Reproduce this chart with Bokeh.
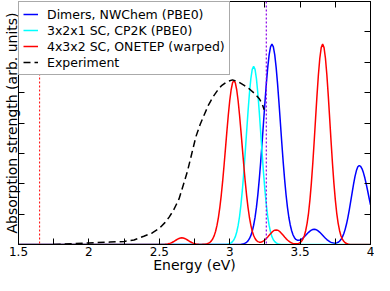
from bokeh.plotting import figure
from bokeh.models import (Range1d, FixedTicker, LinearAxis, Span, NumeralTickFormatter,
                          CustomLabelingPolicy)
from bokeh.embed import file_html
from bokeh.resources import INLINE

# ---------------- data ----------------
energy_fine = [
    2.50, 2.51, 2.52, 2.53, 2.54, 2.55, 2.56, 2.57, 2.58, 2.59,
    2.60, 2.61, 2.62, 2.63, 2.64, 2.65, 2.66, 2.67, 2.68, 2.69,
    2.70, 2.71, 2.72, 2.73, 2.74, 2.75, 2.76, 2.77, 2.78, 2.79,
    2.80, 2.81, 2.82, 2.83, 2.84, 2.85, 2.86, 2.87, 2.88, 2.89,
    2.90, 2.91, 2.92, 2.93, 2.94, 2.95, 2.96, 2.97, 2.98, 2.99,
    3.00, 3.01, 3.02, 3.03, 3.04, 3.05, 3.06, 3.07, 3.08, 3.09,
    3.10, 3.11, 3.12, 3.13, 3.14, 3.15, 3.16, 3.17, 3.18, 3.19,
    3.20, 3.21, 3.22, 3.23, 3.24, 3.25, 3.26, 3.27, 3.28, 3.29,
    3.30, 3.31, 3.32, 3.33, 3.34, 3.35, 3.36, 3.37, 3.38, 3.39,
    3.40, 3.41, 3.42, 3.43, 3.44, 3.45, 3.46, 3.47, 3.48, 3.49,
    3.50, 3.51, 3.52, 3.53, 3.54, 3.55, 3.56, 3.57, 3.58, 3.59,
    3.60, 3.61, 3.62, 3.63, 3.64, 3.65, 3.66, 3.67, 3.68, 3.69,
    3.70, 3.71, 3.72, 3.73, 3.74, 3.75, 3.76, 3.77, 3.78, 3.79,
    3.80, 3.81, 3.82, 3.83, 3.84, 3.85, 3.86, 3.87, 3.88, 3.89,
    3.90, 3.91, 3.92, 3.93, 3.94, 3.95, 3.96, 3.97, 3.98, 3.99,
    4.00,
]
energy_start = [1.50]
zero_start = [0.0]

dimers_nwchem = [
    0, 0, 0, 0, 0, 0, 0, 0, 0, 0,
    0, 0, 0, 0, 0, 0, 0, 0, 0, 0,
    0, 0, 0, 0, 0, 0, 0, 0, 0, 0,
    0, 0, 0, 0, 0, 0, 0, 0, 0, 0,
    0, 0, 0, 0, 0, 0, 0, 0, 0, 0,
    0, 0, 0, 0, 0, 0.001, 0.002, 0.004, 0.008, 0.014,
    0.026, 0.044, 0.073, 0.119, 0.191, 0.290, 0.436, 0.634, 0.891, 1.228,
    1.643, 2.145, 2.713, 3.340, 4.006, 4.666, 5.287, 5.821, 6.244, 6.508,
    6.600, 6.508, 6.244, 5.821, 5.287, 4.666, 4.006, 3.340, 2.713, 2.146,
    1.645, 1.231, 0.897, 0.643, 0.451, 0.312, 0.224, 0.167, 0.141, 0.137,
    0.151, 0.177, 0.214, 0.257, 0.306, 0.355, 0.401, 0.441, 0.473, 0.493,
    0.500, 0.493, 0.473, 0.441, 0.401, 0.354, 0.304, 0.253, 0.206, 0.163,
    0.126, 0.095, 0.071, 0.055, 0.045, 0.044, 0.053, 0.072, 0.108, 0.162,
    0.243, 0.352, 0.498, 0.682, 0.903, 1.157, 1.434, 1.720, 1.996, 2.241,
    2.434, 2.558, 2.600, 2.572, 2.490, 2.359, 2.187, 1.984, 1.762, 1.531,
    1.302,
]

sc_cp2k = [
    0, 0, 0, 0, 0, 0, 0, 0, 0, 0,
    0, 0, 0, 0, 0, 0, 0, 0, 0, 0,
    0, 0, 0, 0, 0, 0, 0, 0, 0, 0,
    0, 0, 0, 0, 0, 0, 0, 0, 0, 0,
    0, 0, 0, 0, 0, 0.001, 0.002, 0.004, 0.007, 0.015,
    0.028, 0.052, 0.094, 0.158, 0.258, 0.411, 0.628, 0.922, 1.315, 1.796,
    2.371, 3.017, 3.698, 4.367, 4.972, 5.453, 5.764, 5.870, 5.764, 5.453,
    4.972, 4.367, 3.698, 3.017, 2.371, 1.796, 1.315, 0.922, 0.628, 0.411,
    0.258, 0.158, 0.094, 0.052, 0.028, 0.015, 0.007, 0.004, 0.002, 0.001,
    0, 0, 0, 0, 0, 0, 0, 0, 0, 0,
    0, 0, 0, 0, 0, 0, 0, 0, 0, 0,
    0, 0, 0, 0, 0, 0, 0, 0, 0, 0,
    0, 0, 0, 0, 0, 0, 0, 0, 0, 0,
    0, 0, 0, 0, 0, 0, 0, 0, 0, 0,
    0, 0, 0, 0, 0, 0, 0, 0, 0, 0,
    0,
]

sc_onetep = [
    0.001, 0.001, 0.002, 0.003, 0.006, 0.011, 0.019, 0.030, 0.045, 0.066,
    0.090, 0.119, 0.148, 0.176, 0.199, 0.215, 0.220, 0.215, 0.199, 0.176,
    0.148, 0.119, 0.090, 0.066, 0.045, 0.030, 0.019, 0.011, 0.006, 0.003,
    0.002, 0.005, 0.008, 0.014, 0.025, 0.044, 0.073, 0.119, 0.189, 0.292,
    0.437, 0.637, 0.896, 1.220, 1.620, 2.084, 2.608, 3.164, 3.726, 4.255,
    4.725, 5.087, 5.319, 5.400, 5.319, 5.087, 4.725, 4.255, 3.726, 3.164,
    2.608, 2.084, 1.620, 1.220, 0.897, 0.638, 0.439, 0.296, 0.197, 0.132,
    0.094, 0.078, 0.076, 0.089, 0.116, 0.151, 0.196, 0.248, 0.302, 0.357,
    0.407, 0.446, 0.471, 0.480, 0.471, 0.446, 0.407, 0.357, 0.302, 0.247,
    0.194, 0.147, 0.108, 0.075, 0.052, 0.036, 0.025, 0.021, 0.025, 0.036,
    0.060, 0.107, 0.178, 0.290, 0.462, 0.706, 1.036, 1.478, 2.020, 2.666,
    3.392, 4.158, 4.910, 5.590, 6.131, 6.481, 6.600, 6.481, 6.131, 5.590,
    4.910, 4.158, 3.392, 2.666, 2.020, 1.478, 1.036, 0.706, 0.462, 0.290,
    0.178, 0.106, 0.058, 0.032, 0.017, 0.008, 0.004, 0.002, 0.001, 0,
    0, 0, 0, 0, 0, 0, 0, 0, 0, 0,
    0,
]

experiment_energy = [
    1.75, 1.90, 2.00, 2.15, 2.25, 2.32, 2.39, 2.45, 2.50, 2.54,
    2.57, 2.60, 2.62, 2.64, 2.67, 2.70, 2.73, 2.76, 2.79, 2.82,
    2.85, 2.88, 2.91, 2.94, 2.98, 3.02, 3.06, 3.10, 3.14, 3.18,
    3.21, 3.23, 3.245,
]
experiment_strength = [
    0.00, 0.03, 0.05, 0.08, 0.10, 0.15, 0.27, 0.38, 0.53, 0.72,
    0.90, 1.12, 1.31, 1.50, 1.95, 2.41, 2.98, 3.55, 3.95, 4.28,
    4.60, 4.85, 5.05, 5.22, 5.36, 5.42, 5.36, 5.25, 5.12, 4.96,
    4.80, 4.64, 4.44,
]

series_labels = [
    "Dimers, NWChem (PBE0)",
    "3x2x1 SC, CP2K (PBE0)",
    "4x3x2 SC, ONETEP (warped)",
    "Experiment",
]
marker_energies = [1.65, 3.26]

x_tick_values = [1.5, 2.0, 2.5, 3.0, 3.5, 4.0]
x_minor_values = [1.75, 2.25, 2.75, 3.25, 3.75]
y_tick_values = [1, 2, 3, 4, 5, 6, 7]

x_label = "Energy (eV)"
y_label = "Absorption strength (arb. units)"

# ---------------- figure ----------------
FONT = "DejaVu Sans"

p = figure(width=374, height=275,
           x_range=Range1d(1.5, 4.0), y_range=Range1d(0, 8),
           output_backend="svg", toolbar_location=None,
           x_axis_location=None, y_axis_location=None,
           min_border_left=0, min_border_right=4,
           min_border_top=1, min_border_bottom=0)
p.grid.visible = False
p.outline_line_color = "black"
p.outline_line_width = 1
p.background_fill_color = "white"
p.border_fill_color = "white"


def hidden_labels():
    # drop every tick label (ticks stay)
    return CustomLabelingPolicy(code="for (const i of indices) { indices.unset(i) } return indices")


def style_axis(ax, show_labels):
    ax.axis_line_color = "black"
    ax.axis_line_width = 1
    ax.major_tick_line_color = "black"
    ax.minor_tick_line_color = "black"
    ax.major_tick_out = 0
    ax.minor_tick_out = 0
    ax.major_tick_in = 6
    ax.major_label_text_font = FONT
    ax.major_label_text_color = "black"
    if show_labels:
        ax.major_label_standoff = 2
    else:
        ax.major_label_standoff = 0
        ax.major_label_text_font_size = "0px"
        ax.major_label_policy = hidden_labels()
    ax.axis_label_text_font = FONT
    ax.axis_label_text_font_style = "normal"
    ax.axis_label_text_color = "black"


for side, show in (("below", True), ("above", False)):
    ax = LinearAxis(ticker=FixedTicker(ticks=x_tick_values, minor_ticks=x_minor_values),
                    formatter=NumeralTickFormatter(format="0.[0]"))
    style_axis(ax, show)
    ax.minor_tick_in = 6
    if show:
        ax.major_label_text_font_size = "12px"
        ax.axis_label = x_label
        ax.axis_label_text_font_size = "14px"
        ax.axis_label_standoff = -2
    p.add_layout(ax, side)

for side, show in (("left", True), ("right", False)):
    ax = LinearAxis(ticker=FixedTicker(ticks=y_tick_values, minor_ticks=[]))
    style_axis(ax, False)
    ax.minor_tick_in = 0
    if show:
        ax.axis_label = y_label
        ax.axis_label_text_font_size = "14px"
        ax.axis_label_standoff = -1
    p.add_layout(ax, side)

# vertical dotted reference lines (added before the legend so the legend sits on top)
p.add_layout(Span(location=marker_energies[0], dimension="height",
                  line_color="#ff0000", line_dash="2 2", line_width=1))
p.add_layout(Span(location=marker_energies[1], dimension="height",
                  line_color="#8a00e6", line_dash="2 2", line_width=1.2))

p.line(energy_start + energy_fine, zero_start + dimers_nwchem,
       line_color="#0000ff", line_width=1.5, legend_label=series_labels[0])
p.line(energy_start + energy_fine, zero_start + sc_cp2k,
       line_color="#00ffff", line_width=1.5, legend_label=series_labels[1])
p.line(energy_start + energy_fine, zero_start + sc_onetep,
       line_color="#ff0000", line_width=1.5, legend_label=series_labels[2])
p.line(experiment_energy, experiment_strength,
       line_color="black", line_width=1.5, line_dash="7 4", legend_label=series_labels[3])

lg = p.legend[0]
lg.location = "top_left"
lg.margin = 0
lg.padding = 4
lg.spacing = 0
lg.label_height = 16
lg.glyph_height = 16
lg.glyph_width = 15
lg.label_standoff = 9
lg.label_text_font = FONT
lg.label_text_font_size = "12.5px"
lg.label_text_color = "black"
lg.border_line_color = "#555555"
lg.border_line_width = 1.5
lg.background_fill_color = "white"
lg.background_fill_alpha = 1.0

open("out.html", "w").write(file_html(p, INLINE))
